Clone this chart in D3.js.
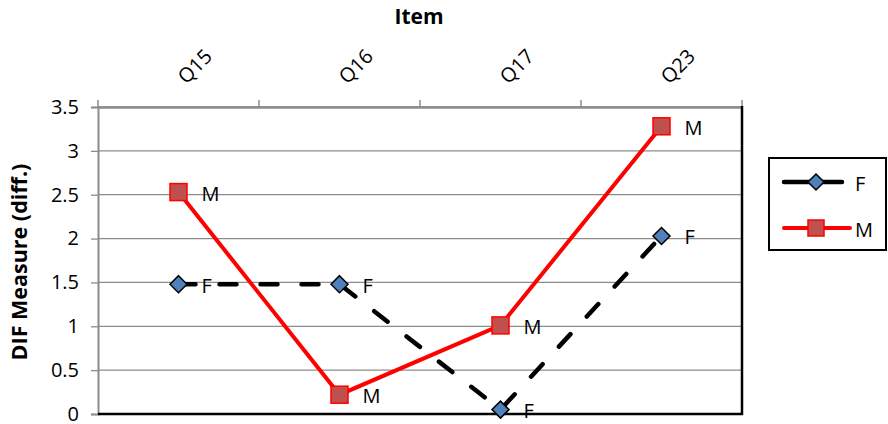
<!DOCTYPE html>
<html><head><meta charset="utf-8">
<script src="https://cdn.jsdelivr.net/npm/d3@7"></script>
<style>body{margin:0;background:#fff}svg{display:block}text{font-family:"Open Sans","Liberation Sans",sans-serif}</style>
</head><body><svg id="c" width="888" height="424"></svg>
<script>
const categories = ["Q15","Q16","Q17","Q23"];
const seriesF = [1.48, 1.48, 0.05, 2.03];
const seriesM = [2.53, 0.22, 1.01, 3.28];
const seriesNames = ["F","M"];
const yTicks = [0,0.5,1,1.5,2,2.5,3,3.5];

const svg = d3.select("#c");
const L=98,R=742,T=107,B=414;
const FS=20;
const x = d3.scaleBand().domain(categories).range([L,R]);
const y = d3.scaleLinear().domain([0,3.5]).range([B,T]);
const cx = c => x(c)+x.bandwidth()/2;

// gridlines
svg.append("g").selectAll("line").data(yTicks.filter(t=>t>0)).join("line")
  .attr("x1",L).attr("x2",R).attr("y1",d=>y(d)).attr("y2",d=>y(d))
  .attr("stroke","#8c8c8c").attr("stroke-width",1.3);

// left axis
const ya = svg.append("g").attr("transform",`translate(${L},0)`)
  .call(d3.axisLeft(y).tickValues(yTicks).tickSize(7).tickPadding(12).tickFormat(d=>d3.format("")(d)));
ya.attr("font-size",null).attr("font-family",null);
ya.select(".domain").attr("stroke","#8c8c8c").attr("stroke-width",2);
ya.selectAll(".tick line").attr("stroke","#8c8c8c").attr("stroke-width",1.3);
ya.selectAll("text").style("font-size",FS+"px").attr("fill","#000");

// top axis
const xa = svg.append("g").attr("transform",`translate(0,${T})`)
  .call(d3.axisTop(x).tickSize(0).tickFormat(""));
xa.select(".domain").attr("stroke","#8c8c8c").attr("stroke-width",2.5);
svg.append("g").selectAll("line").data(d3.range(categories.length+1)).join("line")
  .attr("x1",i=>L+i*x.bandwidth()).attr("x2",i=>L+i*x.bandwidth())
  .attr("y1",T).attr("y2",T-7).attr("stroke","#8c8c8c").attr("stroke-width",1.5);
svg.append("g").selectAll("text").data(categories).join("text")
  .attr("transform",d=>`translate(${cx(d)+16},${66}) rotate(-45)`)
  .attr("text-anchor","middle").attr("dominant-baseline","central")
  .style("font-size",FS+"px").text(d=>d);

// right & bottom border
svg.append("line").attr("x1",R).attr("x2",R).attr("y1",T-1).attr("y2",B+1).attr("stroke","#000").attr("stroke-width",2.5);
svg.append("line").attr("x1",L).attr("x2",R+1).attr("y1",B).attr("y2",B).attr("stroke","#000").attr("stroke-width",2.5);

// titles
svg.append("text").attr("x",419).attr("y",24).attr("text-anchor","middle").style("font-size","21px").attr("font-weight","bold").text("Item");
svg.append("text").attr("transform","translate(27,262) rotate(-90)").attr("text-anchor","middle").style("font-size","21.5px").attr("font-weight","bold").text("DIF Measure (diff.)");

const line = d3.line().x((d,i)=>cx(categories[i])).y(d=>y(d));

function drawDiamond(g, px, py, s){
  g.append("path").attr("d",`M${px},${py-s}L${px+s},${py}L${px},${py+s}L${px-s},${py}Z`)
   .attr("fill","#4F81BD").attr("stroke","#000").attr("stroke-width",1.5);
}
function drawSquare(g, px, py, s){
  g.append("rect").attr("x",px-s).attr("y",py-s).attr("width",2*s).attr("height",2*s)
   .attr("fill","#C0504D").attr("stroke","#FF0000").attr("stroke-width",1.5);
}

// F series
svg.append("path").datum(seriesF).attr("d",line).attr("fill","none").attr("stroke","#000")
  .attr("stroke-width",4.5).attr("stroke-dasharray","17,24").attr("stroke-linecap","round");
// M series
svg.append("path").datum(seriesM).attr("d",line).attr("fill","none").attr("stroke","#FF0000").attr("stroke-width",4);

const gm = svg.append("g");
seriesF.forEach((v,i)=>drawDiamond(gm,cx(categories[i]),y(v),8.5));
seriesM.forEach((v,i)=>drawSquare(gm,cx(categories[i]),y(v),8.5));

// data labels
svg.append("g").selectAll("text").data(seriesF).join("text")
  .attr("x",(d,i)=>cx(categories[i])+23).attr("y",d=>y(d)+1).attr("dominant-baseline","central")
  .style("font-size",FS+"px").text(seriesNames[0]);
svg.append("g").selectAll("text").data(seriesM).join("text")
  .attr("x",(d,i)=>cx(categories[i])+23).attr("y",d=>y(d)+1).attr("dominant-baseline","central")
  .style("font-size",FS+"px").text(seriesNames[1]);

// legend
const lg = svg.append("g");
lg.append("rect").attr("x",769).attr("y",158).attr("width",117).attr("height",92).attr("fill","#fff").attr("stroke","#000").attr("stroke-width",2);
lg.append("line").attr("x1",784).attr("x2",842).attr("y1",182).attr("y2",182).attr("stroke","#000").attr("stroke-width",4.5).attr("stroke-linecap","round");
drawDiamond(lg,816,182,8);
lg.append("line").attr("x1",784).attr("x2",850).attr("y1",228).attr("y2",228).attr("stroke","#FF0000").attr("stroke-width",4).attr("stroke-linecap","round");
drawSquare(lg,816,228,8);
lg.append("text").attr("x",855).attr("y",183).attr("dominant-baseline","central").style("font-size",FS+"px").text(seriesNames[0]);
lg.append("text").attr("x",855).attr("y",229).attr("dominant-baseline","central").style("font-size",FS+"px").text(seriesNames[1]);
</script></body></html>
